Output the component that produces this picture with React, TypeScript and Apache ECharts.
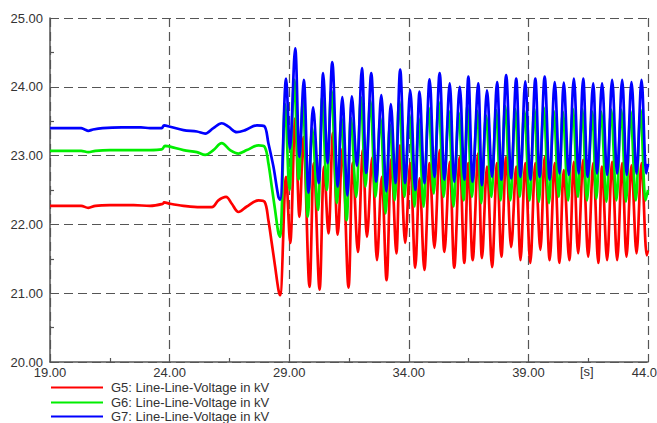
import React, { useEffect, useRef } from "react";
import * as echarts from "echarts";

const xTicks = { min: 19, max: 44, interval: 5 };
const yTicks = { min: 20, max: 25, interval: 1 };
const seriesNames = [
  "G5: Line-Line-Voltage in kV",
  "G6: Line-Line-Voltage in kV",
  "G7: Line-Line-Voltage in kV",
];
const unitLabel = "[s]";

const g5Points: [number, number][] = [
  [19.0, 22.27], [20.3, 22.27], [20.6, 22.24], [20.9, 22.27], [21.5, 22.28], [22.5, 22.28],
  [23.18, 22.27], [23.72, 22.3], [23.77, 22.32], [24.02, 22.3], [24.58, 22.27], [25.28, 22.25],
  [25.77, 22.25], [26.04, 22.35], [26.36, 22.4], [26.6, 22.3], [26.88, 22.18], [27.23, 22.26],
  [27.72, 22.35], [27.97, 22.33], [28.13, 22.06], [28.27, 21.73], [28.41, 21.39], [28.55, 21.05],
  [28.62, 20.97], [28.87, 22.69], [29.04, 21.73], [29.25, 23.54], [29.43, 22.11], [29.59, 23.27],
  [29.85, 21.09], [30.03, 22.89], [30.27, 21.05], [30.46, 22.84], [30.64, 21.87], [30.83, 23.33],
  [31.03, 21.85], [31.22, 23.1], [31.48, 21.08], [31.66, 22.9], [31.87, 21.6], [32.08, 23.08],
  [32.25, 21.82], [32.47, 22.97], [32.67, 21.48], [32.87, 22.69], [33.07, 21.19], [33.27, 22.95],
  [33.48, 21.58], [33.64, 23.15], [33.85, 21.73], [34.06, 22.89], [34.27, 21.37], [34.45, 22.67],
  [34.65, 21.34], [34.87, 22.89], [35.07, 21.66], [35.29, 23.08], [35.49, 21.6], [35.71, 22.91],
  [35.9, 21.37], [36.13, 22.98], [36.32, 21.44], [36.49, 22.89], [36.67, 21.48], [36.9, 23.03],
  [37.06, 21.51], [37.27, 22.84], [37.48, 21.38], [37.69, 22.89], [37.87, 21.53], [38.07, 22.98],
  [38.28, 21.67], [38.49, 22.84], [38.67, 21.48], [38.87, 22.89], [39.08, 21.44], [39.29, 22.89],
  [39.5, 21.63], [39.68, 22.98], [39.89, 21.48], [40.1, 22.89], [40.3, 21.44], [40.48, 22.79],
  [40.71, 21.48], [40.9, 22.91], [41.08, 21.58], [41.29, 22.94], [41.5, 21.53], [41.71, 22.89],
  [41.92, 21.44], [42.08, 22.84], [42.29, 21.48], [42.5, 22.91], [42.71, 21.48], [42.92, 22.89],
  [43.1, 21.53], [43.31, 22.86], [43.52, 21.58], [43.73, 22.89], [43.95, 21.55], [44.0, 21.62],
];

const g6Points: [number, number][] = [
  [19.0, 23.07], [20.3, 23.07], [20.6, 23.05], [20.9, 23.07], [21.5, 23.08], [22.5, 23.08],
  [23.18, 23.08], [23.67, 23.09], [23.81, 23.14], [24.02, 23.13], [24.58, 23.08], [25.14, 23.05],
  [25.49, 23.01], [25.83, 23.08], [26.18, 23.18], [26.53, 23.08], [26.88, 23.03], [27.23, 23.08],
  [27.72, 23.15], [27.97, 23.13], [28.13, 22.89], [28.27, 22.55], [28.41, 22.21], [28.55, 21.87],
  [28.62, 21.82], [28.83, 23.75], [29.01, 22.5], [29.21, 24.1], [29.4, 22.65], [29.57, 23.8],
  [29.78, 22.11], [29.96, 23.4], [30.2, 22.21], [30.38, 23.85], [30.57, 22.5], [30.76, 23.95],
  [31.0, 22.31], [31.18, 23.55], [31.4, 22.06], [31.58, 23.55], [31.8, 22.4], [32.0, 23.85],
  [32.19, 22.55], [32.39, 23.8], [32.61, 22.4], [32.81, 23.55], [33.03, 22.16], [33.21, 23.45],
  [33.41, 22.35], [33.6, 23.8], [33.82, 22.4], [34.02, 23.6], [34.24, 22.26], [34.41, 23.55],
  [34.62, 22.26], [34.83, 23.7], [35.04, 22.45], [35.25, 23.78], [35.46, 22.4], [35.67, 23.65],
  [35.87, 22.26], [36.09, 23.62], [36.29, 22.35], [36.45, 23.72], [36.64, 22.4], [36.86, 23.65],
  [37.03, 22.31], [37.23, 23.58], [37.45, 22.4], [37.65, 23.66], [37.84, 22.35], [38.03, 23.72],
  [38.25, 22.35], [38.45, 23.68], [38.64, 22.4], [38.83, 23.65], [39.05, 22.35], [39.25, 23.68],
  [39.44, 22.33], [39.64, 23.7], [39.86, 22.31], [40.06, 23.65], [40.27, 22.4], [40.44, 23.64],
  [40.66, 22.35], [40.86, 23.68], [41.07, 22.4], [41.25, 23.68], [41.45, 22.35], [41.67, 23.64],
  [41.84, 22.37], [42.04, 23.64], [42.26, 22.33], [42.46, 23.67], [42.68, 22.35], [42.88, 23.67],
  [43.08, 22.33], [43.27, 23.65], [43.49, 22.35], [43.69, 23.67], [43.9, 22.35], [44.0, 22.5],
];

const g7Points: [number, number][] = [
  [19.0, 23.4], [20.3, 23.4], [20.45, 23.38], [20.6, 23.36], [20.8, 23.38], [21.2, 23.4],
  [22.0, 23.41], [22.8, 23.41], [23.18, 23.4], [23.67, 23.4], [23.77, 23.44], [24.02, 23.42],
  [24.58, 23.37], [25.14, 23.35], [25.49, 23.32], [25.83, 23.4], [26.18, 23.47], [26.46, 23.42],
  [26.81, 23.34], [27.16, 23.37], [27.65, 23.44], [27.95, 23.43], [28.13, 23.18], [28.34, 22.84],
  [28.55, 22.4], [28.62, 22.36], [28.87, 24.12], [29.03, 23.1], [29.25, 24.56], [29.43, 22.98],
  [29.61, 24.1], [29.81, 22.46], [30.0, 23.7], [30.23, 22.6], [30.42, 24.2], [30.6, 22.89],
  [30.8, 24.36], [31.03, 22.55], [31.22, 23.85], [31.43, 22.42], [31.62, 23.86], [31.83, 22.85],
  [32.04, 24.27], [32.22, 22.75], [32.43, 24.2], [32.64, 22.62], [32.85, 23.88], [33.06, 22.48],
  [33.25, 23.75], [33.44, 22.6], [33.64, 24.25], [33.85, 22.6], [34.06, 23.95], [34.27, 22.5],
  [34.45, 23.93], [34.65, 22.6], [34.87, 24.11], [35.07, 22.69], [35.29, 24.2], [35.49, 22.65],
  [35.71, 24.05], [35.9, 22.62], [36.13, 24.0], [36.32, 22.65], [36.49, 24.15], [36.67, 22.62],
  [36.9, 24.05], [37.06, 22.57], [37.27, 23.95], [37.48, 22.69], [37.69, 24.07], [37.87, 22.65],
  [38.07, 24.17], [38.28, 22.67], [38.49, 24.12], [38.67, 22.69], [38.87, 24.08], [39.08, 22.65],
  [39.29, 24.12], [39.47, 22.69], [39.68, 24.15], [39.89, 22.65], [40.1, 24.07], [40.3, 22.74],
  [40.48, 24.06], [40.69, 22.72], [40.9, 24.12], [41.1, 22.74], [41.29, 24.12], [41.48, 22.69],
  [41.71, 24.05], [41.87, 22.74], [42.08, 24.05], [42.29, 22.72], [42.5, 24.1], [42.71, 22.74],
  [42.92, 24.1], [43.11, 22.72], [43.31, 24.07], [43.52, 22.74], [43.73, 24.1], [43.93, 22.74],
  [44.0, 22.88],
];

const FONT = "'Liberation Sans', Arial, sans-serif";
const GRID_COLOR = "#555555";

export default function App() {
  const ref = useRef<HTMLDivElement>(null);
  useEffect(() => {
    if (!ref.current) return;
    const chart = echarts.init(ref.current, undefined, { renderer: "svg" });
    const mk = (name: string, data: [number, number][], color: string) => ({
      name,
      type: "line",
      data,
      symbol: "none",
      showSymbol: false,
      smooth: 0.35,
      lineStyle: { color, width: 2.7 },
      itemStyle: { color },
    });
    const legendRow = (name: string, top: number) => ({
      orient: "vertical",
      left: 50,
      top,
      itemWidth: 52,
      itemHeight: 14,
      itemGap: 0,
      padding: 0,
      selectedMode: false,
      itemStyle: { opacity: 0 },
      lineStyle: { width: 2 },
      textStyle: { fontSize: 13, color: "#333333", fontFamily: FONT, padding: [0, 0, 0, 3] },
      data: [name],
    });
    chart.setOption({
      animation: false,
      backgroundColor: "#ffffff",
      textStyle: { fontFamily: FONT },
      grid: {
        left: 50,
        right: 9,
        top: 18,
        bottom: 61,
        containLabel: false,
        outerBoundsMode: "none",
      },
      xAxis: {
        type: "value",
        min: xTicks.min,
        max: xTicks.max,
        interval: xTicks.interval,
        axisLine: { show: true, onZero: false, lineStyle: { color: GRID_COLOR, width: 1.5 } },
        axisTick: { show: true, inside: true, length: 4, lineStyle: { color: GRID_COLOR } },
        minorTick: { show: true, splitNumber: 2, length: 4, lineStyle: { color: GRID_COLOR, width: 1.2 } },
        splitLine: { show: true, lineStyle: { color: GRID_COLOR, type: [9, 5], width: 1.2 } },
        axisLabel: {
          color: "#333333",
          fontSize: 13,
          fontFamily: FONT,
          margin: 4,
          hideOverlap: false,
          formatter: (v: number) => v.toFixed(2),
        },
      },
      yAxis: {
        type: "value",
        min: yTicks.min,
        max: yTicks.max,
        interval: yTicks.interval,
        axisLine: { show: true, lineStyle: { color: GRID_COLOR, width: 1.5 } },
        axisTick: { show: true, inside: true, length: 4, lineStyle: { color: GRID_COLOR } },
        minorTick: { show: true, splitNumber: 2, length: 4, lineStyle: { color: GRID_COLOR, width: 1.2 } },
        splitLine: { show: true, lineStyle: { color: GRID_COLOR, type: [9, 5], width: 1.2 } },
        axisLabel: {
          color: "#333333",
          fontSize: 13,
          fontFamily: FONT,
          margin: 7,
          formatter: (v: number) => v.toFixed(2),
        },
      },
      legend: [
        legendRow(seriesNames[0], 381),
        legendRow(seriesNames[1], 396),
        legendRow(seriesNames[2], 410),
      ],
      graphic: [
        {
          type: "text",
          left: 580,
          top: 365,
          style: { text: unitLabel, fontSize: 13, fill: "#333333", fontFamily: FONT },
        },
      ],
      series: [
        mk(seriesNames[0], g5Points, "#ff0000"),
        mk(seriesNames[1], g6Points, "#00ee00"),
        mk(seriesNames[2], g7Points, "#0000ff"),
      ],
    });
    return () => chart.dispose();
  }, []);
  return (
    <div
      ref={ref}
      style={{ position: "absolute", left: 0, top: 0, width: 657, height: 423, background: "#fff" }}
    />
  );
}
